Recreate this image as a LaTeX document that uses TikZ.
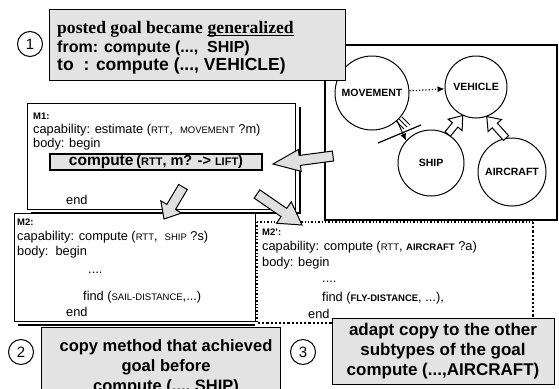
\documentclass[tikz,border=0pt]{standalone}
\usepackage{fontspec}
\setmainfont{Liberation Sans}
\newfontfamily\serifb{Liberation Serif}
\usetikzlibrary{calc,arrows.meta}
\newcommand{\sm}[1]{{\fontsize{9.5}{10}\selectfont #1}}
\newcommand{\blockarrow}[6]{%
  \coordinate (bahead) at ($(#2)!#5!(#1)$);
  \draw[#6] ($(#1)!#3!90:(#2)$) -- ($(bahead)!#3!90:(#2)$) -- ($(bahead)!#4!90:(#2)$) -- (#2)
    -- ($(bahead)!#4!-90:(#2)$) -- ($(bahead)!#3!-90:(#2)$) -- ($(#1)!#3!-90:(#2)$) -- cycle;}
\begin{document}
\begin{tikzpicture}[x=1pt,y=-1pt,
  frame/.style={draw,line width=1.3pt},
  tex/.style={fill=black!11},
  numc/.style={circle,draw,line width=1pt,minimum size=25pt,inner sep=0pt,font=\fontsize{15}{15}\selectfont},
  conc/.style={circle,draw,line width=1pt,inner sep=0pt,font=\fontsize{10.5}{11}\bfseries\selectfont},
  txt/.style={anchor=base west,inner sep=0pt,font=\fontsize{12.8}{13}\selectfont},
  bigt/.style={inner sep=0pt,font=\fontsize{16.5}{20}\bfseries\selectfont,align=center},
  serift/.style={anchor=base west,inner sep=0pt,font=\serifb\fontsize{17.6}{18}\bfseries\selectfont},
  hollow/.style={draw,line width=1pt,fill=white},
  grayarrow/.style={draw,line width=1pt,fill=black!12}]
\useasboundingbox (0,0) rectangle (559,388);
\fill[white] (0,0) rectangle (559,388);

% right panel
\draw[frame] (325,45) rectangle (557,220);
\node[conc,minimum size=74pt] (mov) at (372,93) {MOVEMENT};
\node[conc,minimum size=62pt] (veh) at (476,87) {VEHICLE};
\node[conc,minimum size=66pt] (ship) at (431,163) {SHIP};
\node[conc,minimum size=68pt] (air) at (512,172) {AIRCRAFT};
\draw[dotted,line width=1.2pt,-{Latex[length=7pt,width=6pt]}] (mov) -- (veh);
\draw[line width=1pt,-{Latex[length=7pt,width=6pt]}] (mov.-48) -- (ship.138);
\coordinate (crA) at (378,143);
\coordinate (crB) at (421,125);
\draw[line width=1.2pt] (crA) -- (crB);
\draw[line width=0.8pt] (396,121) -- (404,129) (399,119) -- (407,127) (402,117) -- (410,125);
\blockarrow{ship.60}{veh.-115}{3.5pt}{9pt}{12pt}{hollow}
\blockarrow{air.100}{veh.-70}{3.5pt}{9pt}{12pt}{hollow}

% box 1
\node[numc] (n1) at (30,44) {1};
\node[frame,tex,minimum width=296pt,minimum height=71pt,anchor=north west,inner sep=0pt] (b1) at (49,9) {};
\node[serift] (b1a) at (57,33) {posted goal became};
\node[serift] (gen) at ($(b1a.base east)+(4.4,0)$) {generalized};
\draw[line width=1.2pt] ($(gen.base west)+(0,2.5)$) -- ($(gen.base east)+(0,2.5)$);
\node[anchor=base west,inner sep=0pt,font=\fontsize{16}{16}\bfseries\selectfont] (b1b) at (57,52) {from: compute (...,\ \ SHIP)};
\node[anchor=base west,inner sep=0pt,font=\fontsize{17.5}{18}\bfseries\selectfont] (b1c) at (57,70) {to\hspace{10pt}: compute (..., VEHICLE)};

% M1
\draw[line width=2pt] (300,107) -- (300,213) -- (31,213);
\node[frame,fill=white,minimum width=268pt,minimum height=106pt,anchor=north west,inner sep=0pt] (m1) at (27,103) {};
\node[txt] (m1l) at (33,119) {\sm{\bfseries M1:}};
\node[txt] (m1c) at (33,133) {capability: estimate (\sm{RTT},\ \ \sm{MOVEMENT} ?m)};
\node[txt] (m1b) at (33,147) {body: begin};
\node[frame,tex,minimum width=212pt,minimum height=16pt,inner sep=0pt,line width=1.1pt] (cmp) at (156,162)
  {{\fontsize{15.5}{16}\bfseries\selectfont compute} {\fontsize{14.5}{14}\bfseries\selectfont ({\fontsize{11}{11}\selectfont RTT}, m? -> {\fontsize{11}{11}\selectfont LIFT})}};
\node[txt] (m1e) at (66,204) {end};

% M2'
\draw[dotted,line width=1.4pt] (257,222) -- (533,222);
\draw[dotted,line width=1.4pt] (257,222) -- (257,323);
\draw[dotted,line width=2.2pt] (533,222) -- (533,323) -- (257,323);
\node[txt] (m3l) at (262,235) {\sm{\bfseries M2':}};
\node[txt] (m3c) at (262,250) {capability: compute (\sm{RTT}, \sm{\bfseries AIRCRAFT} ?a)};
\node[txt] (m3b) at (262,266) {body: begin};
\node[txt] (m3d) at (322,282) {....};
\node[txt] (m3f) at (322,301) {find (\sm{\bfseries FLY-DISTANCE}, ...),};
\node[txt] (m3e) at (308,318) {end};

% M2
\draw[line width=2pt] (18,325) -- (255,325);
\node[frame,fill=white,minimum width=241pt,minimum height=108pt,anchor=north west,inner sep=0pt] (m2) at (14,213) {};
\node[txt] (m2l) at (17,225) {\sm{\bfseries M2:}};
\node[txt] (m2c) at (17,240) {capability: compute (\sm{RTT},\ \ \sm{SHIP} ?s)};
\node[txt] (m2b) at (17,255) {body:\ \ begin};
\node[txt] (m2d) at (88,273) {....};
\node[txt] (m2f) at (83,300) {find (\sm{SAIL-DISTANCE},...)};
\node[txt] (m2e) at (66,316) {end};

% gray arrows
\coordinate (g1s) at (333,156); \coordinate (g1e) at (273,164);
\blockarrow{g1s}{g1e}{5pt}{11pt}{27pt}{grayarrow}
\coordinate (g2s) at (183,187); \coordinate (g2e) at (164,219);
\blockarrow{g2s}{g2e}{5pt}{12pt}{14pt}{grayarrow}
\coordinate (g3s) at (257,194); \coordinate (g3e) at (302,225);
\blockarrow{g3s}{g3e}{5pt}{13pt}{22pt}{grayarrow}

% box 2
\node[numc] (n2) at (21,352) {2};
\node[frame,tex,minimum width=239pt,minimum height=70pt,anchor=north west,inner sep=0pt] (b2) at (41,327) {};
\node[bigt] (b2t) at (166,367) {copy method that achieved\\goal before\\compute (..., SHIP)};

% box 3
\node[numc] (n3) at (303,352) {3};
\node[frame,tex,minimum width=222pt,minimum height=66pt,anchor=north west,inner sep=0pt] (b3) at (332,318) {};
\node[bigt,font=\fontsize{17}{20}\bfseries\selectfont] (b3t) at (443,351) {adapt copy to the other\\subtypes of the goal\\compute (...,AIRCRAFT)};
\end{tikzpicture}
\end{document}
